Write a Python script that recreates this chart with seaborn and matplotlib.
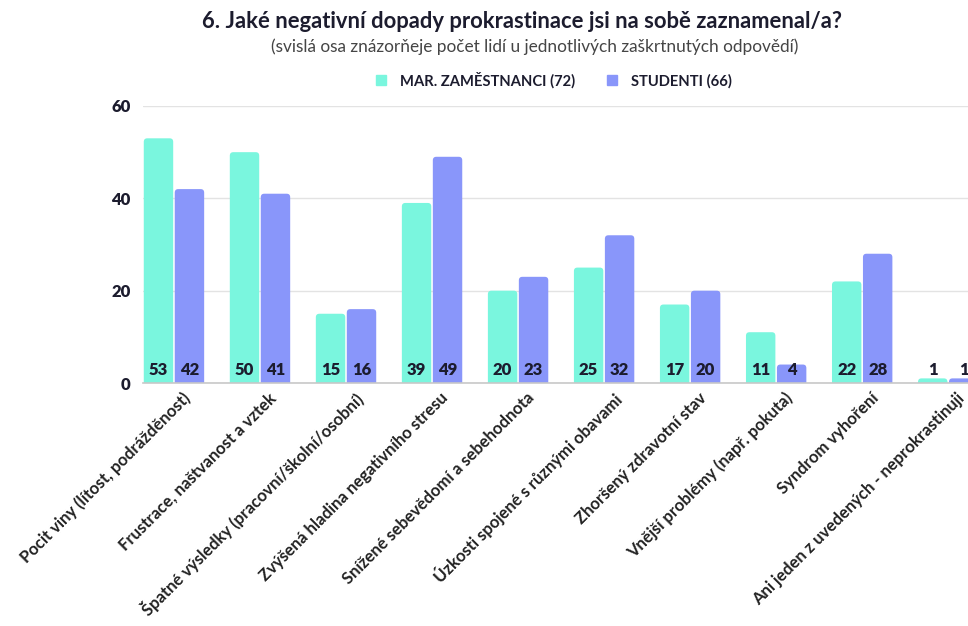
import matplotlib
matplotlib.use('Agg')

import numpy as np
import pandas as pd
import matplotlib.pyplot as plt
import matplotlib.transforms as mtransforms
from matplotlib.patches import FancyBboxPatch
import seaborn as sns

# data
categories = [
    'Pocit viny (lítost, podrážděnost)',
    'Frustrace, naštvanost a vztek',
    'Špatné výsledky (pracovní/školní/osobní)',
    'Zvýšená hladina negativního stresu',
    'Snížené sebevědomí a sebehodnota',
    'Úzkosti spojené s různými obavami',
    'Zhoršený zdravotní stav',
    'Vnější problémy (např. pokuta)',
    'Syndrom vyhoření',
    'Ani jeden z uvedených - neprokrastinuji',
]
zamestnanci = [53, 50, 15, 39, 20, 25, 17, 11, 22, 1]
studenti = [42, 41, 16, 49, 23, 32, 20, 4, 28, 1]
series_names = ['MAR. ZAMĚSTNANCI (72)', 'STUDENTI (66)']
y_ticks = [0, 20, 40, 60]

colors = ['#7AF6DE', '#8996FA']
text_dark = '#1C1C2E'

df = pd.DataFrame({
    'kategorie': categories * 2,
    'skupina': [series_names[0]] * len(categories) + [series_names[1]] * len(categories),
    'pocet': zamestnanci + studenti,
})

sns.set_theme(style='white')
plt.rcParams['font.family'] = ['Lato', 'DejaVu Sans']

fig = plt.figure(figsize=(9.68, 6.26), dpi=100)
ax = fig.add_axes([143 / 968, 243 / 626, 825 / 968, 277 / 626])

sns.barplot(data=df, x='kategorie', y='pocet', hue='skupina', order=categories,
            hue_order=series_names, palette=colors, width=0.72, gap=0.05,
            saturation=1, ax=ax, legend=False)

ax.set_xlim(-0.36, 9.23)
ax.set_ylim(0, 60)

# rounded tops: replace bars with rounded boxes that start below the axis
px_x = 825 / (9.23 + 0.36)
px_y = 277 / 60
bars = list(ax.patches)
for bar in bars:
    x, w, h = bar.get_x(), bar.get_width(), bar.get_height()
    fc = bar.get_facecolor()
    bar.remove()
    r = 3.5 / px_x
    box = FancyBboxPatch((x, -2), w, h + 2,
                         boxstyle=f'round,pad=0,rounding_size={r}',
                         mutation_aspect=px_x / px_y,
                         facecolor=fc, edgecolor='none', zorder=2)
    ax.add_patch(box)
    ax.text(x + w / 2, 2.8, f'{int(h)}', ha='center', va='center',
            fontsize=12, fontweight='heavy', color=text_dark, zorder=3)

ax.set_yticks(y_ticks)
ax.set_yticklabels([str(t) for t in y_ticks], fontsize=12, fontweight='heavy', color=text_dark)
ax.yaxis.grid(True, color='#E3E3E3', linewidth=1)
ax.set_axisbelow(True)
for side in ['top', 'right', 'left']:
    ax.spines[side].set_visible(False)
ax.spines['bottom'].set_color('#C8C8C8')
ax.spines['bottom'].set_linewidth(1.2)
ax.spines['bottom'].set_zorder(4)
ax.tick_params(axis='both', length=0)
ax.tick_params(axis='y', pad=9)
ax.set_xlabel('')
ax.set_ylabel('')

ax.set_xticks(range(len(categories)))
ax.set_xticklabels(categories, rotation=45, ha='right', rotation_mode='anchor',
                   fontsize=12, fontweight='bold', color='#222222')
offset = mtransforms.ScaledTranslation(8 / 100, -2 / 100, fig.dpi_scale_trans)
for lbl in ax.get_xticklabels():
    lbl.set_transform(lbl.get_transform() + offset)

# title, subtitle, legend
fig.text(522 / 968, 1 - 22 / 626, '6. Jaké negativní dopady prokrastinace jsi na sobě zaznamenal/a?',
         ha='center', va='center', fontsize=15.8, fontweight='bold', color=text_dark)
fig.text(535 / 968, 1 - 47 / 626, '(svislá osa znázorňeje počet lidí u jednotlivých zaškrtnutých odpovědí)',
         ha='center', va='center', fontsize=12.4, fontweight='normal', color='#454545')

handles = [plt.Line2D([], [], marker='s', linestyle='', markersize=7.5,
                      markerfacecolor=c, markeredgecolor=c) for c in colors]
leg = fig.legend(handles, series_names, loc='center', bbox_to_anchor=(549 / 968, 1 - 80 / 626),
                 ncol=2, frameon=False, handletextpad=0.3, columnspacing=1.5,
                 prop={'weight': 'bold', 'size': 10.6})
for t in leg.get_texts():
    t.set_color(text_dark)

fig.savefig('out.png', dpi=100)
